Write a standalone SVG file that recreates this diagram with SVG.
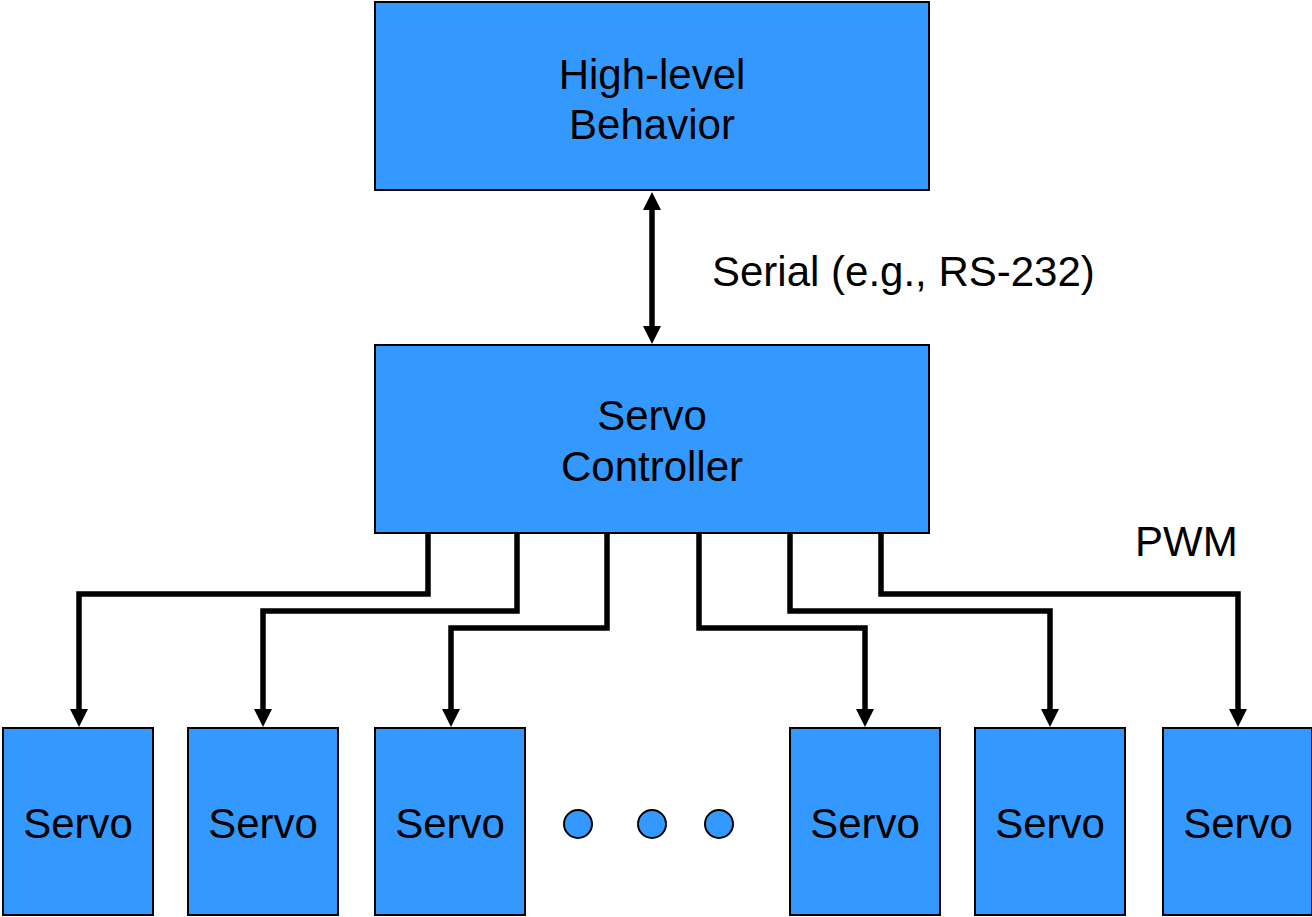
<svg xmlns="http://www.w3.org/2000/svg" width="1312" height="917" viewBox="0 0 1312 917">
  <style>
    .box { fill: #3399FF; stroke: #000; stroke-width: 2; }
    .dot { fill: #3399FF; stroke: #000; stroke-width: 2; }
    .lbl { font-family: "Liberation Sans", Arial, sans-serif; font-size: 42px; fill: #000; }
    .mid { text-anchor: middle; }
    .wire { fill: none; stroke: #000; stroke-width: 5.5; stroke-linejoin: miter; }
  </style>
  <defs>
    <marker id="arrow" viewBox="0 0 18 18" refX="1" refY="9" markerWidth="18" markerHeight="18" markerUnits="userSpaceOnUse" orient="auto-start-reverse">
      <path d="M0,0 L18,9 L0,18 Z" fill="#000"/>
    </marker>
  </defs>

  <rect width="1312" height="917" fill="#fff"/>

  <!-- links -->
  <g id="connectors">
    <path class="wire" d="M652,209 V327" marker-start="url(#arrow)" marker-end="url(#arrow)"/>
    <path class="wire" d="M428,534 V594 H79 V710" marker-end="url(#arrow)"/>
    <path class="wire" d="M517,534 V611 H263 V710" marker-end="url(#arrow)"/>
    <path class="wire" d="M607,534 V628 H451 V710" marker-end="url(#arrow)"/>
    <path class="wire" d="M699,534 V628 H865 V710" marker-end="url(#arrow)"/>
    <path class="wire" d="M790,534 V611 H1050 V710" marker-end="url(#arrow)"/>
    <path class="wire" d="M881,534 V594 H1238 V710" marker-end="url(#arrow)"/>
  </g>

  <text class="lbl" x="712" y="286">Serial (e.g., RS-232)</text>
  <text class="lbl" x="1135" y="556">PWM</text>

  <g id="behavior">
    <rect class="box" x="375" y="2" width="554" height="188"/>
    <text class="lbl mid" x="652" y="89">High-level</text>
    <text class="lbl mid" x="652" y="139">Behavior</text>
  </g>

  <g id="controller">
    <rect class="box" x="375" y="345" width="554" height="188"/>
    <text class="lbl mid" x="652" y="430">Servo</text>
    <text class="lbl mid" x="652" y="481">Controller</text>
  </g>

  <g id="servo1">
    <rect class="box" x="3" y="728" width="150" height="187"/>
    <text class="lbl mid" x="78" y="838">Servo</text>
  </g>
  <g id="servo2">
    <rect class="box" x="188" y="728" width="150" height="187"/>
    <text class="lbl mid" x="263" y="838">Servo</text>
  </g>
  <g id="servo3">
    <rect class="box" x="375" y="728" width="150" height="187"/>
    <text class="lbl mid" x="450" y="838">Servo</text>
  </g>

  <g id="ellipsis">
    <circle class="dot" cx="578" cy="824" r="14"/>
    <circle class="dot" cx="652" cy="824" r="14"/>
    <circle class="dot" cx="719" cy="824" r="14"/>
  </g>

  <g id="servo4">
    <rect class="box" x="790" y="728" width="150" height="187"/>
    <text class="lbl mid" x="865" y="838">Servo</text>
  </g>
  <g id="servo5">
    <rect class="box" x="975" y="728" width="150" height="187"/>
    <text class="lbl mid" x="1050" y="838">Servo</text>
  </g>
  <g id="servo6">
    <rect class="box" x="1163" y="728" width="149" height="187"/>
    <text class="lbl mid" x="1238" y="838">Servo</text>
  </g>
</svg>
